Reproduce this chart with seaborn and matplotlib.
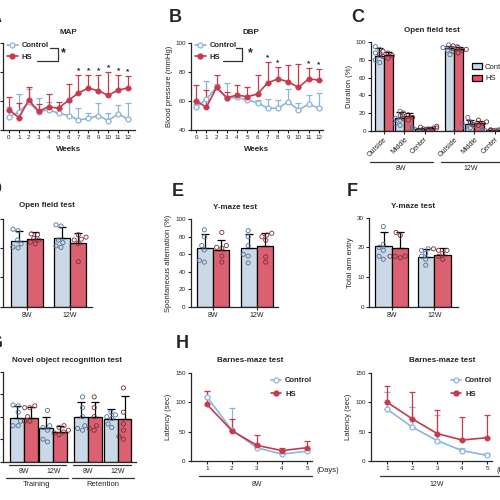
import numpy as np
import pandas as pd
import seaborn as sns
import matplotlib.pyplot as plt
import matplotlib.transforms as mtransforms
from matplotlib.lines import Line2D
from matplotlib.patches import Patch

sns.set_theme(style="ticks")
plt.rcParams['font.family'] = ['Liberation Sans', 'DejaVu Sans']
plt.rcParams['axes.linewidth'] = 0.9
plt.rcParams['xtick.major.width'] = 0.8
plt.rcParams['ytick.major.width'] = 0.8
plt.rcParams['xtick.major.size'] = 2.2
plt.rcParams['ytick.major.size'] = 2.2
plt.rcParams['xtick.major.pad'] = 1.5
plt.rcParams['ytick.major.pad'] = 1.5

CTRL_FILL = '#c6d9ec'
HS_FILL = '#f04b63'
CTRL_LINE = '#8db5d7'
HS_LINE = '#c8394b'
CTRL_DOT = '#4f6f94'
HS_DOT = '#7d2c39'
TITLE_SIZE = 5.8

# ---- A / B : blood pressure over weeks ----
weeks = list(range(13))
map_ctrl = [69, 72.5, 79, 72.5, 74, 71.5, 70, 67, 68, 70, 66.5, 71, 67.5]
map_ctrl_up = [76, 85, 88, 82, 79, 75, 79, 75, 72, 78.5, 71.5, 77.5, 78.5]
map_hs = [74, 68.5, 80.5, 73, 76, 75, 80.5, 85.5, 89, 87, 84, 87.5, 89]
map_hs_up = [82.5, 78.5, 89.5, 78, 84.5, 79.5, 91.5, 98, 98, 98, 100, 98, 97]
map_stars = [7, 8, 9, 10, 11, 12]

dbp_ctrl = [55.6, 61.4, 69.4, 61.8, 62.5, 60.7, 58.8, 55, 55, 59.5, 53.8, 57.9, 55]
dbp_ctrl_up = [58, 73.8, 72, 72.2, 64, 62, 61, 61.4, 61, 68, 58.8, 64, 65.5]
dbp_hs = [60.2, 55.6, 69.4, 62.3, 64.1, 63, 64.8, 72.6, 75.2, 73.3, 69.4, 75.2, 74.5]
dbp_hs_up = [71, 67.6, 78, 66.4, 71, 69.4, 78, 86.7, 83.7, 84.8, 85.3, 83, 82.1]
dbp_stars = [7, 8, 11, 12]

# ---- C : open field zones ----
zones = ['Outside', 'Middle', 'Center']
zone_pos = [0, 1, 2, 3.45, 4.45, 5.45]
c_ctrl = [85, 14, 2, 93, 8, 0.8]
c_hs = [86, 17, 3, 92, 9, 0.5]
c_ctrl_up = [93, 21, 3.5, 96, 12, 1.2]
c_hs_up = [89, 20, 4, 95, 11, 1]
c_ctrl_pts = [[95, 92, 88, 85, 80, 77], [22, 17, 14, 12, 8, 6], [4, 2, 2, 1, 1, 0],
              [97, 95, 94, 93, 91, 86], [15, 10, 8, 6, 4, 3], [1, 1, 0.5, 0.5, 0, 0]]
c_hs_pts = [[90, 88, 87, 85, 84, 82], [20, 18, 17, 15, 14, 12], [5, 4, 3, 3, 2, 1],
            [96, 94, 92, 91, 90, 88], [12, 10, 9, 8, 7, 6], [1, 0.5, 0.5, 0, 0, 0]]

ages = ['8W', '12W']

# ---- D : open field ----
d_ctrl = [22.6, 23.6]
d_hs = [23.3, 21.8]
d_ctrl_up = [26, 27.4]
d_hs_up = [25.7, 25.3]
d_ctrl_pts = [[26.5, 26, 22.8, 21.5, 20.4, 20.1], [28, 27.6, 22.8, 21.9, 20.8, 20.3]]
d_hs_pts = [[24.9, 24.6, 23.4, 22.8, 22.1, 21.5], [24.6, 23.8, 23.1, 22.8, 21.7, 15.4]]

# ---- E : Y-maze alternation ----
e_ctrl = [67.5, 66.8]
e_hs = [65, 69.5]
e_ctrl_up = [83, 82.8]
e_hs_up = [76.3, 84.7]
e_ctrl_pts = [[88, 80, 70, 65, 53, 51], [87, 80, 70, 60, 58, 50]]
e_hs_pts = [[85, 70, 68, 67, 58, 51], [84, 82, 80, 76, 57, 51]]

# ---- F : Y-maze arm entries ----
f_ctrl = [20.5, 16.9]
f_hs = [19.7, 17.4]
f_ctrl_up = [25.3, 19.3]
f_hs_up = [25.1, 19.8]
f_ctrl_pts = [[27, 21, 20, 19, 17, 16], [19.5, 19, 18, 17, 16, 14]]
f_hs_pts = [[25, 24, 17, 17, 17, 16.5], [19.5, 19, 19, 18, 17, 16]]

# ---- G : novel object recognition ----
g_pos = [0, 1, 2.2, 3.2]
g_labels = ['8W', '12W', '8W', '12W']
g_ctrl = [49, 37, 49.3, 47.8]
g_hs = [49, 32.6, 49.3, 48]
g_ctrl_up = [62, 50, 66.7, 58.2]
g_hs_up = [60.4, 39.7, 66.7, 73]
g_ctrl_pts = [[63, 62, 55, 45, 40, 40], [57, 40, 38, 35, 25, 22],
              [72, 60, 50, 40, 37, 35], [55, 52, 50, 48, 42, 38]]
g_hs_pts = [[62, 60, 60, 50, 45, 45], [40, 38, 35, 33, 32, 30],
            [72, 60, 50, 40, 37, 35], [82, 55, 42, 35, 28, 25]]

# ---- H : Barnes maze ----
days = [1, 2, 3, 4, 5]
h8_ctrl = [110, 53, 23, 12, 17]
h8_ctrl_up = [120, 90, 30, 15, 20]
h8_hs = [97, 52, 27, 18, 23]
h8_hs_up = [120, 71, 45, 22, 35]
h12_ctrl = [88, 58, 35, 18, 10]
h12_ctrl_up = [117, 93, 78, 22, 14]
h12_hs = [100, 72, 47, 36, 40]
h12_hs_up = [128, 117, 87, 75, 79]

W, H = 500, 500
fig = plt.figure(figsize=(5, 5), dpi=100)


def add_ax(l, t, r, b):
    ax = fig.add_axes([l / W, 1 - b / H, (r - l) / W, (b - t) / H])
    ax.set_facecolor('none')
    sns.despine(ax=ax)
    ax.tick_params(labelsize=4.5, colors='#222222')
    return ax


def ftext(px, py, s, **kw):
    fig.text(px / W, 1 - py / H, s, ha='center', va='center', **kw)


def fline(xs, ys, **kw):
    fig.add_artist(Line2D([x / W for x in xs], [1 - y / H for y in ys],
                          transform=fig.transFigure, color='#333333', lw=0.9, **kw))


def line_panel(ax, x, ctrl, ctrl_up, hs, hs_up):
    n = len(x)
    df = pd.DataFrame({'x': x * 2, 'value': ctrl + hs,
                       'group': ['Control'] * n + ['HS'] * n})
    ax.errorbar(x, ctrl, yerr=[np.zeros(n), np.array(ctrl_up) - np.array(ctrl)],
                fmt='none', ecolor=CTRL_LINE, elinewidth=0.9, capsize=2, capthick=0.9, zorder=2)
    ax.errorbar(x, hs, yerr=[np.zeros(n), np.array(hs_up) - np.array(hs)],
                fmt='none', ecolor=HS_LINE, elinewidth=0.9, capsize=2, capthick=0.9, zorder=2)
    sns.lineplot(data=df[df.group == 'Control'], x='x', y='value', color=CTRL_LINE,
                 marker='o', markersize=3.5, markerfacecolor='white', markeredgecolor=CTRL_LINE,
                 markeredgewidth=0.9, lw=1.2, errorbar=None, ax=ax, zorder=3)
    sns.lineplot(data=df[df.group == 'HS'], x='x', y='value', color=HS_LINE,
                 marker='o', markersize=3.5, markeredgecolor=HS_LINE,
                 lw=1.2, errorbar=None, ax=ax, zorder=4)
    ax.set_xlabel('')
    ax.set_ylabel('')


def line_legend(ax, px, py, spacing=0.5):
    handles = [Line2D([0], [0], color=CTRL_LINE, marker='o', markersize=3.5, lw=1.2,
                      markerfacecolor='white', markeredgewidth=0.9),
               Line2D([0], [0], color=HS_LINE, marker='o', markersize=3.5, lw=1.2)]
    ax.legend(handles, ['Control', 'HS'], loc='upper left', frameon=False,
              bbox_to_anchor=(px / W, 1 - py / H), bbox_transform=fig.transFigure,
              handlelength=1.4, handletextpad=0.5, labelspacing=spacing,
              borderpad=0, borderaxespad=0, prop={'weight': 'bold', 'size': 5.5})


def bar_panel(ax, xs, ctrl, hs, ctrl_up, hs_up, ctrl_pts, hs_pts, native=False, width=0.8):
    n = len(xs)
    means = pd.DataFrame({'x': xs * 2, 'group': ['Control'] * n + ['HS'] * n,
                          'value': ctrl + hs})
    rows = []
    for i, xv in enumerate(xs):
        rows += [(xv, 'Control', v) for v in ctrl_pts[i]]
        rows += [(xv, 'HS', v) for v in hs_pts[i]]
    pts = pd.DataFrame(rows, columns=['x', 'group', 'value'])
    kw = dict(native_scale=True) if native else dict(order=xs)
    sns.barplot(data=means, x='x', y='value', hue='group', hue_order=['Control', 'HS'],
                palette={'Control': CTRL_FILL, 'HS': HS_FILL}, edgecolor='black',
                linewidth=0.9, width=width, errorbar=None, legend=False, ax=ax, zorder=1, **kw)
    bars = sorted(ax.patches, key=lambda p: p.get_x())
    tops = []
    for i in range(n):
        tops += [ctrl_up[i], hs_up[i]]
    cx = [p.get_x() + p.get_width() / 2 for p in bars]
    hh = [p.get_height() for p in bars]
    ax.errorbar(cx, hh, yerr=[np.zeros(len(cx)), np.array(tops) - np.array(hh)],
                fmt='none', ecolor='black', elinewidth=0.9, capsize=2.6, capthick=0.9, zorder=2)
    nb = len(ax.collections)
    sns.swarmplot(data=pts, x='x', y='value', hue='group', hue_order=['Control', 'HS'],
                  palette={'Control': CTRL_DOT, 'HS': HS_DOT}, dodge=True, size=3,
                  legend=False, ax=ax, zorder=3, **kw)
    for coll in ax.collections[nb:]:
        fc = coll.get_facecolor()
        coll.set_facecolor('none')
        coll.set_edgecolor(fc)
        coll.set_linewidth(0.6)
    ax.set_xlabel('')
    ax.set_ylabel('')


# ---------- A ----------
axA = add_ax(3, 43, 135, 130)
line_panel(axA, weeks, map_ctrl, map_ctrl_up, map_hs, map_hs_up)
axA.set_ylim(60, 120)
axA.set_yticks([60, 80, 100, 120])
axA.set_yticklabels([])  # labels fall outside the cropped figure
axA.set_xlim(-0.6, 12.7)
axA.set_xticks(weeks)
axA.set_xlabel('Weeks', fontsize=5.8, fontweight='bold', labelpad=4)
for w in map_stars:
    axA.text(w, map_hs_up[w] + 0.5, '*', ha='center', va='bottom', fontsize=6, fontweight='bold')
line_legend(axA, 7, 42)
ftext(68, 32, 'MAP', fontsize=TITLE_SIZE, fontweight='bold')
ftext(-5, 18, 'A', fontsize=13, fontweight='bold')
fline([50, 58, 58, 37], [47.7, 47.7, 61, 61])
ftext(63, 53, '*', fontsize=9, fontweight='bold')

# ---------- B ----------
axB = add_ax(191, 43, 323, 130)
line_panel(axB, weeks, dbp_ctrl, dbp_ctrl_up, dbp_hs, dbp_hs_up)
axB.set_ylim(40, 100)
axB.set_yticks([40, 60, 80, 100])
axB.set_xlim(-0.5, 12.4)
axB.set_xticks(weeks)
axB.set_xlabel('Weeks', fontsize=5.8, fontweight='bold', labelpad=4)
axB.set_ylabel('Blood pressure (mmHg)', fontsize=5.5, labelpad=2)
for w in dbp_stars:
    axB.text(w, dbp_hs_up[w] + 0.5, '*', ha='center', va='bottom', fontsize=6, fontweight='bold')
line_legend(axB, 195, 42)
ftext(251, 32, 'DBP', fontsize=TITLE_SIZE, fontweight='bold')
ftext(175, 17, 'B', fontsize=13, fontweight='bold')
fline([236, 242, 242, 223], [47.7, 47.7, 61, 61])
ftext(250, 53, '*', fontsize=9, fontweight='bold')

# ---------- C ----------
axC = add_ax(371, 42.3, 512, 130.7)
bar_panel(axC, zone_pos, c_ctrl, c_hs, c_ctrl_up, c_hs_up, c_ctrl_pts, c_hs_pts,
          native=True, width=0.9)
axC.set_ylim(0, 100)
axC.set_yticks([0, 20, 40, 60, 80, 100])
axC.set_xlim(-0.63, 6.3)
axC.set_xticks(zone_pos)
axC.set_xticklabels(zones * 2, rotation=45, ha='right', rotation_mode='anchor', fontsize=5)
axC.set_ylabel('Duration (%)', fontsize=5.5, labelpad=2)
axC.legend(handles=[Patch(facecolor=CTRL_FILL, edgecolor='black', lw=0.9),
                    Patch(facecolor=HS_FILL, edgecolor='black', lw=0.9)],
           labels=['Control', 'HS'], loc='upper left', frameon=False,
           bbox_to_anchor=(472 / W, 1 - 63 / H), bbox_transform=fig.transFigure,
           fontsize=5.5, handlelength=1.3, handleheight=0.9, handletextpad=0.4,
           borderpad=0, borderaxespad=0, labelspacing=0.5)
ftext(432, 30, 'Open field test', fontsize=TITLE_SIZE, fontweight='bold')
ftext(358, 17, 'C', fontsize=13, fontweight='bold')
trC = mtransforms.blended_transform_factory(axC.transData, fig.transFigure)
for lo, hi in [(-0.67, 2.43), (2.83, 6.5)]:
    axC.add_line(Line2D([lo, hi], [1 - 161.5 / H] * 2, transform=trC, color='#333333',
                        lw=0.9, clip_on=False))
ftext(401, 168, '8W', fontsize=5)
ftext(471, 168, '12W', fontsize=5)

# ---------- D ----------
axD = add_ax(3, 219, 92, 306.7)
bar_panel(axD, ages, d_ctrl, d_hs, d_ctrl_up, d_hs_up, d_ctrl_pts, d_hs_pts, width=0.75)
axD.set_ylim(0, 30)
axD.set_yticks([0, 10, 20, 30])
axD.set_yticklabels([])
axD.set_xlim(-0.55, 1.52)
axD.tick_params(axis='x', labelsize=5)
ftext(47, 206, 'Open field test', fontsize=TITLE_SIZE, fontweight='bold')
ftext(-5, 190, 'D', fontsize=13, fontweight='bold')

# ---------- E ----------
axE = add_ax(190.7, 219.3, 278, 306.7)
bar_panel(axE, ages, e_ctrl, e_hs, e_ctrl_up, e_hs_up, e_ctrl_pts, e_hs_pts, width=0.74)
axE.set_ylim(0, 100)
axE.set_yticks([0, 20, 40, 60, 80, 100])
axE.set_xlim(-0.51, 1.48)
axE.tick_params(axis='x', labelsize=5)
axE.set_ylabel('Spontaneous alternation (%)', fontsize=5.5, labelpad=2)
ftext(235, 207.5, 'Y-maze test', fontsize=TITLE_SIZE, fontweight='bold')
ftext(178, 192, 'E', fontsize=13, fontweight='bold')

# ---------- F ----------
axF = add_ax(369.3, 217.7, 458, 306.7)
bar_panel(axF, ages, f_ctrl, f_hs, f_ctrl_up, f_hs_up, f_ctrl_pts, f_hs_pts, width=0.78)
axF.set_ylim(0, 30)
axF.set_yticks([0, 10, 20, 30])
axF.set_xlim(-0.53, 1.56)
axF.tick_params(axis='x', labelsize=5)
axF.set_ylabel('Total arm entry', fontsize=5.5, labelpad=2)
ftext(413, 206.5, 'Y-maze test', fontsize=TITLE_SIZE, fontweight='bold')
ftext(352, 192, 'F', fontsize=13, fontweight='bold')

# ---------- G ----------
axG = add_ax(3, 371.7, 136, 461.7)
bar_panel(axG, g_pos, g_ctrl, g_hs, g_ctrl_up, g_hs_up, g_ctrl_pts, g_hs_pts,
          native=True, width=0.95)
axG.set_ylim(0, 100)
axG.set_yticks([0, 25, 50, 75, 100])
axG.set_yticklabels([])
axG.set_xlim(-0.72, 3.83)
axG.set_xticks(g_pos)
axG.set_xticklabels([])
axG.tick_params(axis='x', length=0)
trG = mtransforms.blended_transform_factory(axG.transData, fig.transFigure)
for xv, lab in zip(g_pos, g_labels):
    axG.add_line(Line2D([xv - 0.52, xv + 0.45], [1 - 465 / H] * 2, transform=trG,
                        color='#333333', lw=0.9, clip_on=False))
    axG.text(xv, 1 - 471.5 / H, lab, transform=trG, ha='center', va='center', fontsize=5)
for lo, hi, lab in [(g_pos[0] - 0.62, g_pos[1] + 0.5, 'Training'),
                    (g_pos[2] - 0.55, g_pos[3] + 0.55, 'Retention')]:
    axG.add_line(Line2D([lo, hi], [1 - 478 / H] * 2, transform=trG, color='#333333',
                        lw=0.9, clip_on=False))
    axG.text((lo + hi) / 2, 1 - 485 / H, lab, transform=trG, ha='center', va='center',
             fontsize=5.5)
ftext(67, 361, 'Novel object recognition test', fontsize=TITLE_SIZE, fontweight='bold')
ftext(-5, 343, 'G', fontsize=13, fontweight='bold')

# ---------- H ----------
for (l, r, xl, ctrl, cu, hs, hu, age, tx) in [
        (190.7, 312, (0.36, 5.2), h8_ctrl, h8_ctrl_up, h8_hs, h8_hs_up, '8W', 250),
        (370.7, 492, (0.33, 5.2), h12_ctrl, h12_ctrl_up, h12_hs, h12_hs_up, '12W', 442)]:
    ax = add_ax(l, 373, r, 461.2)
    line_panel(ax, days, ctrl, cu, hs, hu)
    ax.set_ylim(0, 150)
    ax.set_yticks([0, 50, 100, 150])
    ax.set_xlim(*xl)
    ax.set_xticks(days)
    ax.set_ylabel('Latency (sec)', fontsize=5.5, labelpad=2)
    line_legend(ax, l + 80, 377, spacing=0.8)
    ax.text(1.04, -0.1, '(Days)', transform=ax.transAxes, fontsize=5.5, va='center', ha='left')
    tr = mtransforms.blended_transform_factory(ax.transData, fig.transFigure)
    ax.add_line(Line2D([0.7, 5.5 if age == '12W' else 5.2], [1 - 475.5 / H] * 2, transform=tr,
                       color='#333333', lw=0.9, clip_on=False))
    ax.text(3, 1 - 484 / H, age, transform=tr, ha='center', va='center', fontsize=5)
    ftext(tx, 361, 'Barnes-maze test', fontsize=TITLE_SIZE, fontweight='bold')
ftext(182, 343, 'H', fontsize=13, fontweight='bold')

fig.savefig('out.png', dpi=100)
